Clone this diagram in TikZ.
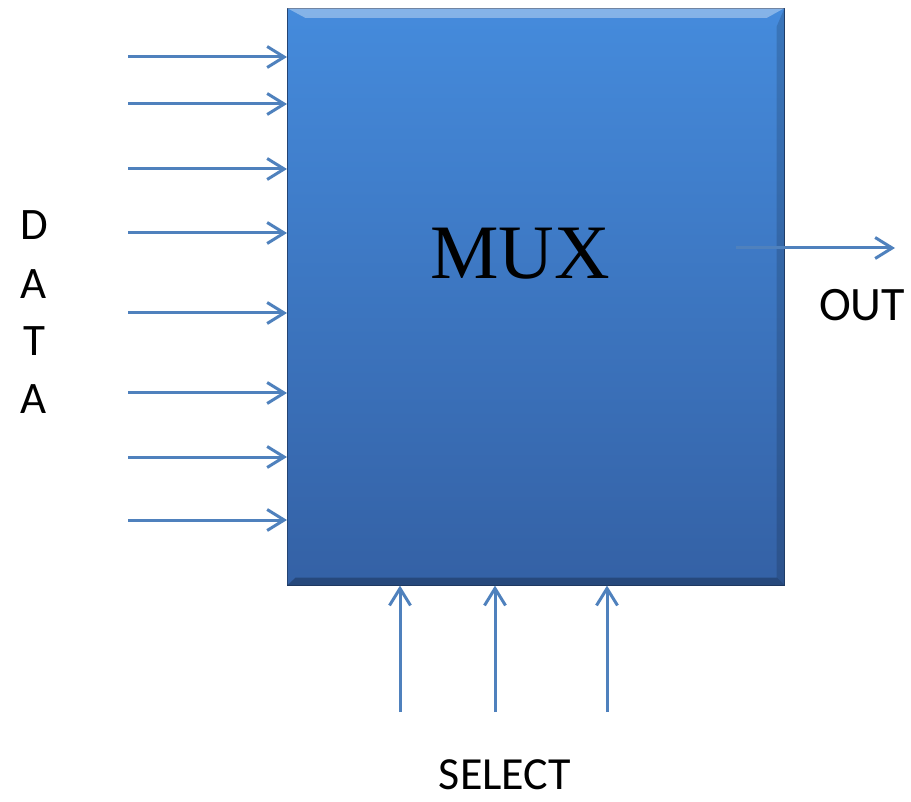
\documentclass[tikz,border=0pt]{standalone}
\usepackage{fontspec}
\setmainfont{Carlito}
\newfontfamily\muxfont{Liberation Serif}
\usetikzlibrary{arrows.meta,positioning,calc}
\definecolor{wire}{HTML}{4F81BD}
\definecolor{muxtop}{HTML}{458BDC}
\definecolor{muxbot}{HTML}{3461A5}
\tikzset{
  sig/.style={-{Straight Barb[length=17pt,width=21pt,line width=3pt]},line width=3pt,wire},
  muxbox/.style={top color=muxtop,bottom color=muxbot,draw=muxbot!70!black,line width=0.6pt,
    minimum width=497pt,minimum height=577pt,inner sep=0pt,anchor=north west},
  labeltext/.style={font=\fontsize{48}{48}\selectfont,text=black,inner sep=0pt}
}
\begin{document}
\begin{tikzpicture}[x=1pt,y=-1pt]
\useasboundingbox (0,0) rectangle (911,802);
\node[muxbox] (mux) at (287,8) {};
% bevel edges
\fill[white,opacity=.35] (mux.north west) -- (mux.north east) -- ++(-18,10) -- ++(-461,0) -- cycle;
\fill[black,opacity=.25] (mux.south west) -- (mux.south east) -- ++(-8,-8) -- ++(-481,0) -- cycle;
\fill[black,opacity=.15] (mux.north east) -- (mux.south east) -- ++(-8,-8) -- ++(0,-551) -- cycle;
\node[font=\muxfont\fontsize{77}{77}\selectfont,inner sep=0pt] (name) at (520,254) {MUX};
% data inputs
\foreach \i/\y in {1/57,2/104,3/169,4/233,5/313,6/393,7/457,8/520}{
  \coordinate (d\i) at (128,\y);
  \draw[sig] (d\i) -- (d\i -| mux.west);
}
\foreach \i/\y/\c in {1/225/D,2/284/A,3/341/T,4/399/A}
  \node[labeltext,font=\fontsize{45}{45}\selectfont] (data\i) at (34,\y) {\c};
% select inputs
\foreach \i/\x in {1/400,2/495,3/607}{
  \coordinate (s\i) at (\x,712);
  \draw[sig] (s\i) -- (s\i |- mux.south);
}
\node[labeltext,font=\fontsize{46}{46}\selectfont] (sel) at (505,775) {SELECT};
% output
\coordinate (o) at (736,248);
\coordinate (oend) at (895,248);
\draw[sig] (o) -- (oend);
\node[labeltext] (out) at (862,305) {OUT};
\end{tikzpicture}
\end{document}
